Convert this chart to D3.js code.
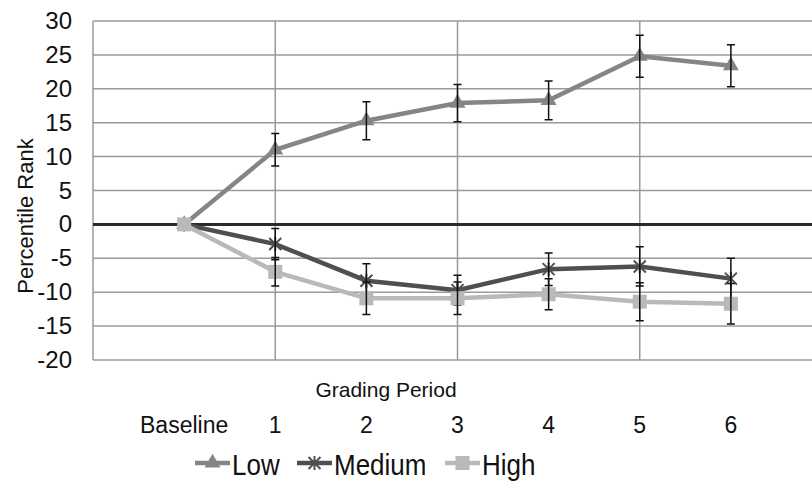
<!DOCTYPE html>
<html>
<head>
<meta charset="utf-8">
<script src="https://cdn.jsdelivr.net/npm/d3@7"></script>
<style>
  body { margin: 0; background: #fff; }
  svg text { font-family: "Liberation Sans", Arial, sans-serif; fill: #111; }
</style>
</head>
<body>
<svg id="chart" width="812" height="482"></svg>
<script>
const periods = ['Baseline', '1', '2', '3', '4', '5', '6'];

const lowValues = [0, 11.0, 15.3, 17.9, 18.3, 24.8, 23.4];
const lowErrors = [null, 2.4, 2.8, 2.75, 2.85, 3.1, 3.1];

const mediumValues = [0, -2.9, -8.3, -9.7, -6.6, -6.2, -8.0];
const mediumErrors = [null, 2.3, 2.5, 2.2, 2.4, 2.9, 3.0];

const highValues = [0, -7.0, -10.9, -10.9, -10.3, -11.4, -11.7];
const highErrors = [null, 2.1, 2.4, 2.4, 2.3, 2.8, 3.0];

const yTicks = [30, 25, 20, 15, 10, 5, 0, -5, -10, -15, -20];
const xGrid = [-1, 1, 3, 5, 7];

const series = [
  {name: 'Low', values: lowValues, errors: lowErrors, color: '#858585', marker: 'triangle'},
  {name: 'Medium', values: mediumValues, errors: mediumErrors, color: '#4f4f4f', marker: 'star'},
  {name: 'High', values: highValues, errors: highErrors, color: '#b9b9b9', marker: 'square'}
];

const svg = d3.select('#chart');

const x = d3.scaleLinear().domain([-1, 7]).range([93, 822]);
const y = d3.scaleLinear().domain([-20, 30]).range([360, 21]);

// grid
const grid = svg.append('g');
grid.selectAll('.hgrid')
  .data(yTicks)
  .join('line')
    .attr('x1', x(-1)).attr('x2', x(7))
    .attr('y1', d => y(d)).attr('y2', d => y(d))
    .attr('stroke', '#9a9a9a')
    .attr('stroke-width', 1.5);
grid.selectAll('.vgrid')
  .data(xGrid)
  .join('line')
    .attr('x1', d => x(d)).attr('x2', d => x(d))
    .attr('y1', y(30)).attr('y2', y(-20))
    .attr('stroke', '#9a9a9a')
    .attr('stroke-width', 1.5);

// zero line
svg.append('line')
    .attr('x1', x(-1)).attr('x2', x(7))
    .attr('y1', y(0)).attr('y2', y(0))
    .attr('stroke', '#2a2a2a')
    .attr('stroke-width', 3);

// y axis labels
svg.append('g')
  .selectAll('text')
  .data(yTicks)
  .join('text')
    .attr('x', 72)
    .attr('y', d => y(d) + 8)
    .attr('text-anchor', 'end')
    .attr('font-size', 24)
    .text(d => d);

svg.append('text')
    .attr('transform', `translate(33,216) rotate(-90)`)
    .attr('text-anchor', 'middle')
    .attr('font-size', 22)
    .text('Percentile Rank');

// x labels
svg.append('text')
    .attr('x', 386)
    .attr('y', 397)
    .attr('text-anchor', 'middle')
    .attr('font-size', 21)
    .text('Grading Period');

svg.append('g')
  .selectAll('text')
  .data(periods)
  .join('text')
    .attr('x', (d, i) => x(i))
    .attr('y', 433)
    .attr('text-anchor', 'middle')
    .attr('font-size', 23)
    .text(d => d);

const line = d3.line()
    .x((d, i) => x(i))
    .y(d => y(d));

function drawMarker(g, type, color, cx, cy) {
  if (type === 'triangle') {
    g.append('path')
        .attr('d', d3.symbol(d3.symbolTriangle, 110)())
        .attr('transform', `translate(${cx},${cy})`)
        .attr('fill', color);
  } else if (type === 'square') {
    g.append('rect')
        .attr('x', cx - 7).attr('y', cy - 7)
        .attr('width', 14).attr('height', 14)
        .attr('fill', color);
  } else {
    const s = 6;
    g.append('path')
        .attr('d', `M${cx - s},${cy - s}L${cx + s},${cy + s}M${cx - s},${cy + s}L${cx + s},${cy - s}M${cx},${cy - s - 1}L${cx},${cy + s + 1}`)
        .attr('stroke', color)
        .attr('stroke-width', 2)
        .attr('fill', 'none');
  }
}

series.forEach(s => {
  const g = svg.append('g');
  g.append('path')
      .datum(s.values)
      .attr('d', line)
      .attr('fill', 'none')
      .attr('stroke', s.color)
      .attr('stroke-width', 4.5);

  s.values.forEach((v, i) => drawMarker(g, s.marker, s.color, x(i), y(v)));

  s.values.forEach((v, i) => {
    const e = s.errors[i];
    if (e == null) return;
    const cx = x(i);
    g.append('path')
        .attr('d', `M${cx},${y(v + e)}L${cx},${y(v - e)}M${cx - 4},${y(v + e)}L${cx + 4},${y(v + e)}M${cx - 4},${y(v - e)}L${cx + 4},${y(v - e)}`)
        .attr('stroke', '#111')
        .attr('stroke-width', 1.5)
        .attr('fill', 'none');
  });
});

// legend
const legendItems = [
  {s: series[0], lx: 195},
  {s: series[1], lx: 297},
  {s: series[2], lx: 445}
];
legendItems.forEach(({s, lx}) => {
  const g = svg.append('g');
  const ly = 463;
  g.append('line')
      .attr('x1', lx).attr('x2', lx + 35)
      .attr('y1', ly).attr('y2', ly)
      .attr('stroke', s.color)
      .attr('stroke-width', 4.5);
  drawMarker(g, s.marker, s.color, lx + 17.5, ly);
  g.append('text')
      .attr('x', lx + 37)
      .attr('y', ly + 11)
      .attr('font-size', 26)
      .attr('transform', `translate(0,${ly}) scale(1,1.12) translate(0,${-ly})`)
      .text(s.name);
});
</script>
</body>
</html>
